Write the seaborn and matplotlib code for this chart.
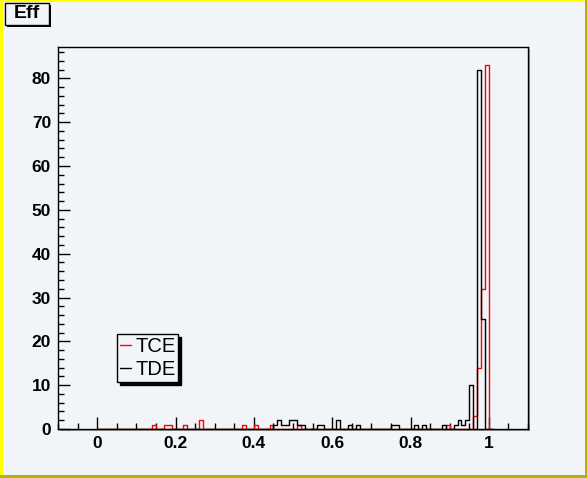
import numpy as np
import pandas as pd
import matplotlib
matplotlib.use("Agg")
import matplotlib.pyplot as plt
from matplotlib.patches import Rectangle
from matplotlib.ticker import MultipleLocator, FuncFormatter
import seaborn as sns

# Histogram contents: low edge of each 0.01 wide bin -> entries
tce_bins = [0.14, 0.17, 0.18, 0.22, 0.26, 0.37, 0.40, 0.44, 0.51,
            0.89, 0.96, 0.97, 0.98, 0.99]
tce_counts = [1, 1, 1, 1, 2, 1, 1, 1, 1,
              1, 3, 14, 32, 83]

tde_bins = [0.45, 0.46, 0.47, 0.48, 0.49, 0.50, 0.51, 0.52, 0.56, 0.57,
            0.61, 0.64, 0.66, 0.75, 0.76, 0.81, 0.83, 0.88, 0.91, 0.92,
            0.93, 0.94, 0.95, 0.97, 0.98]
tde_counts = [1, 2, 1, 1, 2, 2, 1, 1, 1, 1,
              2, 1, 1, 1, 1, 1, 1, 1, 1, 2,
              1, 2, 10, 82, 25]

x_ticks = [0, 0.2, 0.4, 0.6, 0.8, 1]
y_ticks = [0, 10, 20, 30, 40, 50, 60, 70, 80]

bg = "#f2f5f7"
W, H = 587, 478

sns.set_style("white")
plt.rcParams["font.family"] = ["Liberation Sans", "DejaVu Sans"]
plt.rcParams["text.color"] = "black"
plt.rcParams["xtick.labelcolor"] = "black"
plt.rcParams["ytick.labelcolor"] = "black"

tce = pd.DataFrame({"x": np.array(tce_bins) + 0.005, "n": tce_counts})
tde = pd.DataFrame({"x": np.array(tde_bins) + 0.005, "n": tde_counts})

fig = plt.figure(figsize=(W / 100, H / 100), dpi=100, facecolor=bg)


def px_rect(x, y, w, h, **kw):
    # rectangle given in pixels, y measured from the top of the canvas
    r = Rectangle((x / W, (H - y - h) / H), w / W, h / H,
                  transform=fig.transFigure, **kw)
    fig.add_artist(r)
    return r


# frame shadow (grey, right/bottom) behind the axes
px_rect(60, 49, 470, 382, facecolor="#9a9a9a", edgecolor="none", zorder=0)
ax = fig.add_axes([58 / W, (H - 429) / H, 470 / W, 382 / H], zorder=1)
ax.set_facecolor(bg)

# 0.01 bins; one extra empty bin so the outline drops back to zero at 1
sns.histplot(data=tce, x="x", weights="n", binwidth=0.01, binrange=(0, 1.01),
             element="step", fill=False, color="red", linewidth=1, ax=ax)
sns.histplot(data=tde, x="x", weights="n", binwidth=0.01, binrange=(0, 1.01),
             element="step", fill=False, color="black", linewidth=1, ax=ax)
lines = ax.get_lines()
lines[0].set_zorder(2)
lines[1].set_zorder(3)

ax.set_xlim(-0.1, 1.1)
ax.set_ylim(0, 87.15)
ax.set_xlabel("")
ax.set_ylabel("")

ax.set_xticks(x_ticks)
ax.set_yticks(y_ticks)
ax.xaxis.set_major_formatter(FuncFormatter(lambda v, p: f"{v:g}"))
ax.xaxis.set_minor_locator(MultipleLocator(0.05))
ax.yaxis.set_minor_locator(MultipleLocator(2))
ax.tick_params(which="both", direction="in", color="black", width=1,
               labelcolor="black", bottom=True, left=True, top=False,
               right=False)
ax.tick_params(which="major", length=8.5, pad=5)
ax.tick_params(which="minor", length=4.3)
for lab in ax.get_xticklabels() + ax.get_yticklabels():
    lab.set_fontsize(12.5)
    lab.set_fontweight("bold")

for s in ax.spines.values():
    s.set_color("black")
    s.set_linewidth(1)
    s.set_zorder(4)

leg = ax.legend(handles=lines[:2], labels=["TCE", "TDE"],
                loc="lower left", bbox_to_anchor=(0.1255, 0.122),
                borderaxespad=0, fontsize=14.5, handlelength=0.55,
                handletextpad=0.2, labelspacing=0.2, borderpad=0.15,
                fancybox=False, edgecolor="black", facecolor=bg,
                framealpha=1, shadow={"color": "black", "alpha": 1})
leg.get_frame().set_linewidth(1)
for t in leg.get_texts():
    t.set_color("black")

# "Eff" title box with its shadow
px_rect(7, 5, 44, 22, facecolor="black", edgecolor="none", zorder=5)
px_rect(4.5, 3, 44, 22, facecolor=bg, edgecolor="black", linewidth=1,
        zorder=6)
fig.text(26.5 / W, (H - 14) / H, "Eff", ha="center", va="center",
         fontsize=14, fontweight="bold", color="black", zorder=7)

# canvas border: bright yellow top/left, darker olive right/bottom
px_rect(0, 0, 3, H, facecolor="#ffff00", edgecolor="none", zorder=8)
px_rect(0, 0, W, 2, facecolor="#ffff00", edgecolor="none", zorder=8)
px_rect(W - 2, 0, 2, H, facecolor="#b4b400", edgecolor="none", zorder=9)
px_rect(0, H - 3, W, 3, facecolor="#b4b400", edgecolor="none", zorder=9)

fig.savefig("out.png", dpi=100, facecolor=bg)
